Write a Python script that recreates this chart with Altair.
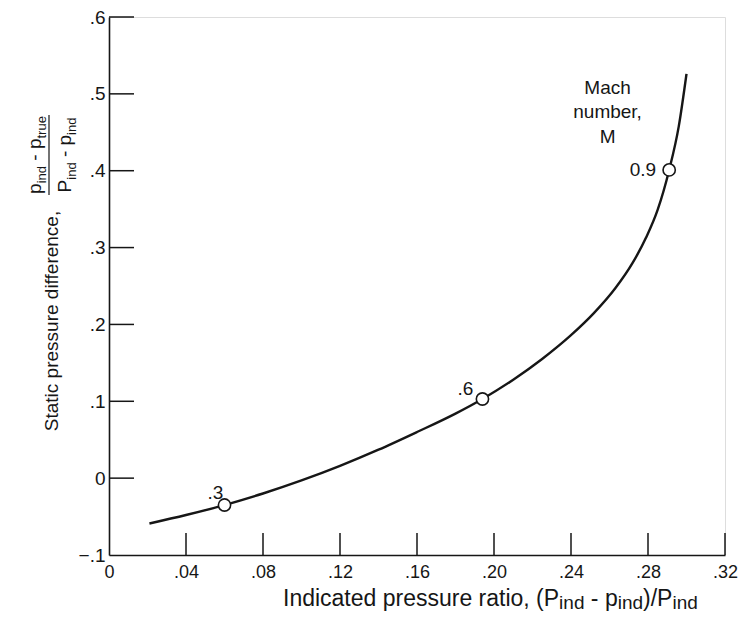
import altair as alt
import pandas as pd

# ---------------- data ----------------
curve_x = [0.021, 0.040, 0.060, 0.080, 0.100, 0.120, 0.140, 0.160, 0.180, 0.194, 0.210,
           0.225, 0.240, 0.252, 0.263, 0.272, 0.279, 0.285, 0.291, 0.296, 0.300]
curve_y = [-0.059, -0.048, -0.035, -0.020, -0.003, 0.016, 0.037, 0.060, 0.084, 0.103, 0.128,
           0.155, 0.186, 0.215, 0.247, 0.280, 0.313, 0.349, 0.401, 0.458, 0.526]

mach_labels = [".3", ".6", "0.9"]
point_x = [0.060, 0.194, 0.291]
point_y = [-0.035, 0.103, 0.401]

x_ticks = [0, 0.04, 0.08, 0.12, 0.16, 0.20, 0.24, 0.28, 0.32]
y_ticks = [-0.1, 0, 0.1, 0.2, 0.3, 0.4, 0.5, 0.6]

annotation_lines = ["Mach", "number,", "M"]

# ---------------- style ----------------
W, H = 616, 538
FONT = "Liberation Sans"
INK = "#161616"

ARIAL = {' ': 278, '-': 333, '(': 333, ')': 333, '/': 278, 'P': 667, 'p': 556,
         'i': 222, 'n': 556, 'd': 556, 't': 278, 'r': 333, 'u': 556, 'e': 556,
         'I': 278, 'c': 500, 'a': 556, 's': 500, 'o': 556, ',': 278}


def tw(s, size):
    return sum(ARIAL.get(c, 556) for c in s) * size / 1000.0


xs = alt.Scale(domain=[0, 0.32], nice=False, zero=False)
ys = alt.Scale(domain=[-0.1, 0.6], nice=False, zero=False)

curve_df = pd.DataFrame({"x": curve_x, "y": curve_y})
pts_df = pd.DataFrame({"label": mach_labels, "x": point_x, "y": point_y})
xt_df = pd.DataFrame({"v": x_ticks})
yt_df = pd.DataFrame({"v": y_ticks})
one = pd.DataFrame({"k": [0]})

x_axis = alt.Axis(values=x_ticks,
                  labelExpr="datum.value == 0 ? '0' : replace(format(datum.value, '.2f'), '0.', '.')",
                  ticks=False, tickSize=0, grid=False, domainColor=INK, domainWidth=1.6,
                  labelFont=FONT, labelFontSize=18, labelColor=INK, labelPadding=8,
                  labelFlush=False, labelOverlap=False, labelBound=False, title="")
y_axis = alt.Axis(values=y_ticks,
                  labelExpr="datum.value == 0 ? '0' : replace(format(datum.value, '.1f'), '0.', '.')",
                  ticks=False, tickSize=0, grid=False, domainColor=INK, domainWidth=1.6,
                  labelFont=FONT, labelFontSize=19, labelColor=INK, labelPadding=4,
                  labelFlush=False, labelOverlap=False, labelBound=False, title="")


def X(field):
    return alt.X(field, scale=xs, axis=x_axis)


def Y(field):
    return alt.Y(field, scale=ys, axis=y_axis)


curve = alt.Chart(curve_df).mark_line(interpolate="monotone", color=INK, strokeWidth=2.4).encode(
    x=X("x:Q"), y=Y("y:Q"))

points = alt.Chart(pts_df).mark_point(shape="circle", filled=True, fill="white", stroke=INK,
                                      strokeWidth=1.6, size=150, opacity=1).encode(
    x=X("x:Q"), y=Y("y:Q"))

label_offsets = {".3": (-9, -12, "center"), ".6": (-17, -10, "center"), "0.9": (-13, 0, "right")}
label_layers = []
for lab in mach_labels:
    dx, dy, al = label_offsets[lab]
    label_layers.append(
        alt.Chart(pts_df).transform_filter(alt.datum.label == lab).mark_text(
            font=FONT, fontSize=19, color=INK, dx=dx, dy=dy, align=al, baseline="middle"
        ).encode(x=X("x:Q"), y=Y("y:Q"), text="label:N")
    )

mach_note = alt.Chart(one).mark_text(
    text=annotation_lines, font=FONT, fontSize=19, color=INK, align="center",
    baseline="middle", lineHeight=24.5
).encode(x=alt.datum(0.259, scale=xs, axis=x_axis), y=alt.datum(0.508, scale=ys, axis=y_axis))

x_tick_rules = alt.Chart(xt_df).transform_filter("datum.v > 0").mark_rule(
    color=INK, strokeWidth=1.5).encode(
    x=X("v:Q"), y=alt.value(H), y2=alt.value(H - 22))
y_tick_rules = alt.Chart(yt_df).transform_filter("datum.v > -0.1").mark_rule(
    color=INK, strokeWidth=1.5).encode(
    y=Y("v:Q"), x=alt.value(0), x2=alt.value(25))

# ---------------- axis titles built from pieces ----------------
# piece = (text, font size, baseline shift, spaces before it)
title_layers = []

MAIN_X, SUB_X = 23, 19
x_pieces = [("Indicated pressure ratio,", MAIN_X, 0, 0), ("(P", MAIN_X, 0, 1),
            ("ind", SUB_X, 3, 0), ("-", MAIN_X, 0, 1), ("p", MAIN_X, 0, 1),
            ("ind", SUB_X, 3, 0), (")/P", MAIN_X, 0, 0), ("ind", SUB_X, 3, 0)]
cx = 174
for txt, sz, ddy, gap in x_pieces:
    cx += gap * tw(" ", MAIN_X)
    title_layers.append(alt.Chart(one).mark_text(
        text=txt, font=FONT, fontSize=sz, color=INK, align="left", baseline="alphabetic", dy=ddy
    ).encode(x=alt.value(cx), y=alt.value(589)))
    cx += tw(txt, sz)

title_layers.append(alt.Chart(one).mark_text(
    text="Static pressure difference,", font=FONT, fontSize=19, color=INK, angle=270,
    align="center", baseline="alphabetic").encode(x=alt.value(-51), y=alt.value(304)))

MAIN_Y, SUB_Y = 19, 13
FRAC_CENTER = 138


def rotated_pieces(pieces, base_x):
    total = sum(tw(t, s) + g * tw(" ", MAIN_Y) for t, s, _, g in pieces)
    start = FRAC_CENTER + total / 2.0
    off = 0.0
    out = []
    for txt, sz, ddy, gap in pieces:
        off += gap * tw(" ", MAIN_Y)
        out.append(alt.Chart(one).mark_text(
            text=txt, font=FONT, fontSize=sz, color=INK, angle=270, align="left",
            baseline="alphabetic", dx=off, dy=ddy
        ).encode(x=alt.value(base_x), y=alt.value(start)))
        off += tw(txt, sz)
    return out


num = [("p", MAIN_Y, 0, 0), ("ind", SUB_Y, 5, 0), ("-", MAIN_Y, 0, 1),
       ("p", MAIN_Y, 0, 1), ("true", SUB_Y, 5, 0)]
den = [("P", MAIN_Y, 0, 0), ("ind", SUB_Y, 5, 0), ("-", MAIN_Y, 0, 1),
       ("p", MAIN_Y, 0, 1), ("ind", SUB_Y, 5, 0)]
title_layers += rotated_pieces(num, -68)
title_layers += rotated_pieces(den, -38)

frac_bar = alt.Chart(one).mark_rule(color=INK, strokeWidth=1.2).encode(
    x=alt.value(-60), y=alt.value(FRAC_CENTER - 40), y2=alt.value(FRAC_CENTER + 40))

chart = alt.layer(
    curve, x_tick_rules, y_tick_rules, points, *label_layers, mach_note, frac_bar, *title_layers
).properties(
    width=W, height=H,
    padding={"left": 101, "top": 9, "right": 14, "bottom": 58},
    autosize=alt.AutoSizeParams(type="none"),
).configure_view(stroke=None).configure(background="white")

chart.save("out.html", embed_options={"renderer": "svg", "actions": False})
